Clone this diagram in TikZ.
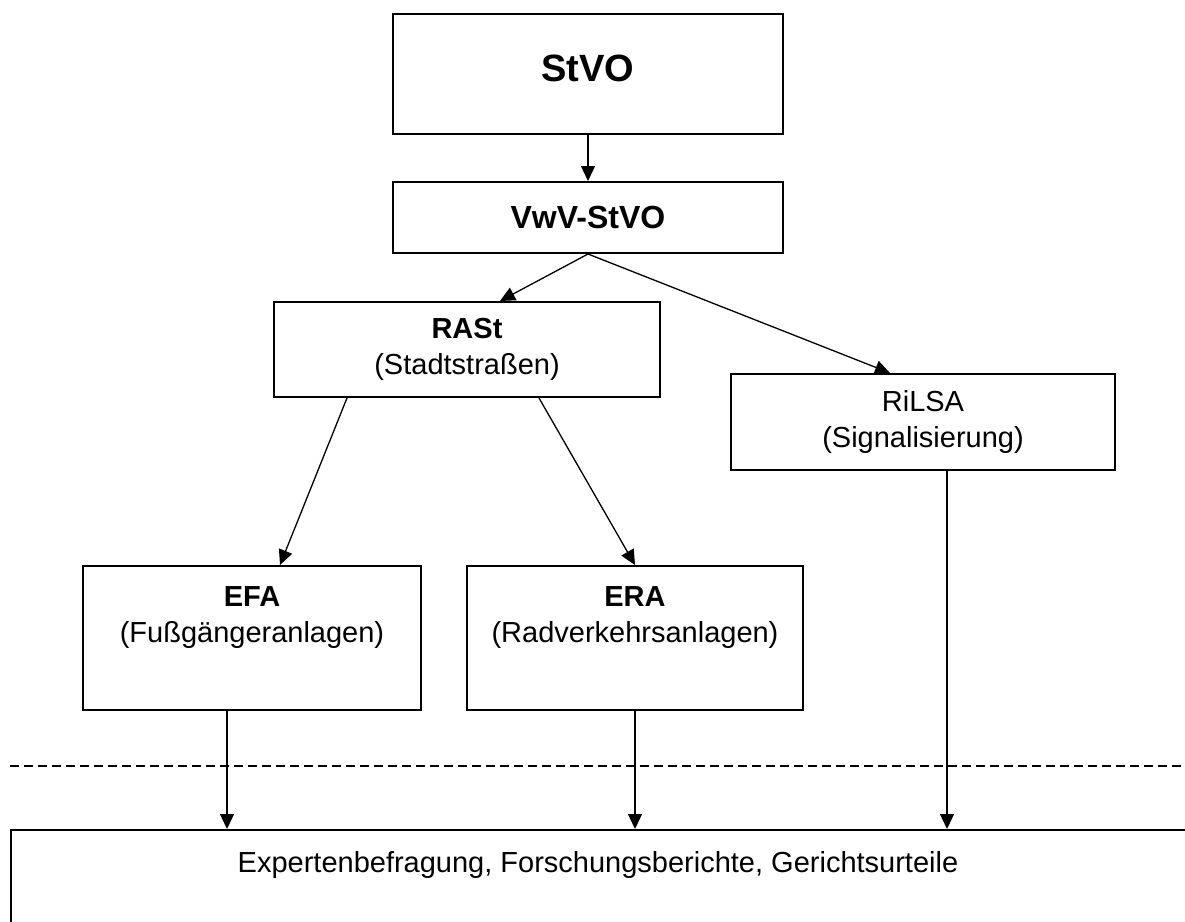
\documentclass[tikz,border=0pt]{standalone}
\usepackage{fontspec}
\setmainfont{Liberation Sans}
\usetikzlibrary{arrows.meta}

\begin{document}
\begin{tikzpicture}[
    x=0.5pt, y=-0.5pt,
    box/.style={
        rectangle, draw=black, line width=1pt,
        align=center, inner sep=0pt,
        font=\fontsize{14.5pt}{18pt}\selectfont
    },
    arrow/.style={-{Triangle[length=7.5pt, width=7pt]}, line width=0.65pt},
    divider/.style={dash pattern=on 4.5pt off 2.5pt, line width=0.65pt}
]
\useasboundingbox (0,0) rectangle (1185,922);
\clip (0,0) rectangle (1185,922);

\node[box, minimum width=195pt, minimum height=60pt, text depth=6pt,
      font=\fontsize{19pt}{23pt}\selectfont\bfseries] (stvo) at (588,74) {StVO};
\node[box, minimum width=195pt, minimum height=35.5pt,
      font=\fontsize{16pt}{19pt}\selectfont\bfseries] (vwv) at (588,217.5) {VwV-StVO};
\node[box, minimum width=193pt, minimum height=47.5pt] (rast) at (467,349.5)
      {\textbf{RASt}\\(Stadtstraßen)};
\node[box, minimum width=192pt, minimum height=48pt] (rilsa) at (923,422)
      {RiLSA\\(Signalisierung)};
\node[box, minimum width=169pt, minimum height=72pt, text depth=23.5pt] (efa) at (252,638)
      {\textbf{EFA}\\(Fußgängeranlagen)};
\node[box, minimum width=168pt, minimum height=72pt, text depth=23.5pt] (era) at (635,638)
      {\textbf{ERA}\\(Radverkehrsanlagen)};
\node[box, minimum width=610pt, minimum height=65pt, text depth=33.5pt] (bottom) at (621,895)
      {Expertenbefragung, Forschungsberichte, Gerichtsurteile\hspace*{23pt}};

\draw[divider] (10,766) -- (1185,766);

\draw[arrow] (stvo) -- (vwv);
\draw[arrow] (vwv.south) -- ([xshift=16.5pt]rast.north);
\draw[arrow] (vwv.south) -- ([xshift=-16.5pt]rilsa.north);
\draw[arrow] ([xshift=-60pt]rast.south) -- ([xshift=14pt]efa.north);
\draw[arrow] ([xshift=36pt]rast.south) -- (era.north);
\draw[arrow] ([xshift=-12.5pt]efa.south) -- ([xshift=-12.5pt]efa.south |- bottom.north);
\draw[arrow] (era.south) -- (era.south |- bottom.north);
\draw[arrow] ([xshift=12pt]rilsa.south) -- ([xshift=12pt]rilsa.south |- bottom.north);
\end{tikzpicture}
\end{document}
